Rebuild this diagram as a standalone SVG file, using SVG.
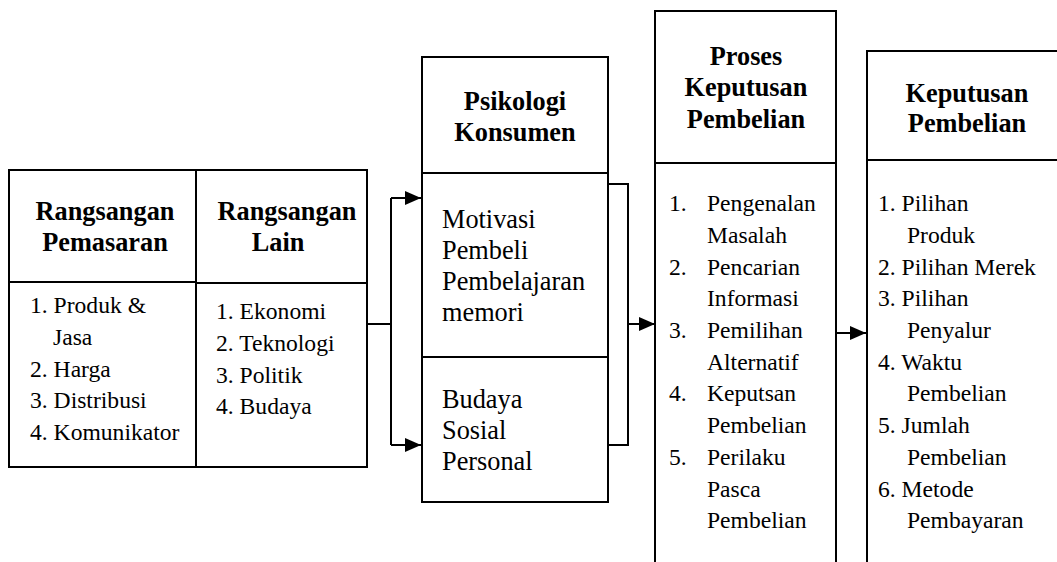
<svg xmlns="http://www.w3.org/2000/svg" width="1057" height="562" viewBox="0 0 1057 562">
<style>
.box{fill:#fff;stroke:#000;stroke-width:2}
.ln{fill:none;stroke:#000;stroke-width:2}
text{font-family:'Liberation Serif','Times New Roman','DejaVu Serif',serif;fill:#000}
.h{font-weight:bold;font-size:26.3px;text-anchor:middle}
.t{font-size:23.6px}
.b{font-size:26.3px}
</style>
<defs>
<marker id="arr" markerWidth="16" markerHeight="14" refX="16" refY="7" orient="auto" markerUnits="userSpaceOnUse">
<path d="M0,0 L16,7 L0,14 Z" fill="#000"/>
</marker>
</defs>
<rect width="1057" height="562" fill="#fff"/>
<g id="connectors">
<path class="ln" d="M367,324 L391,324"/>
<path class="ln" d="M391,198 L391,445"/>
<path class="ln" d="M391,198 L421,198" marker-end="url(#arr)"/>
<path class="ln" d="M391,445 L421,445" marker-end="url(#arr)"/>
<path class="ln" d="M608,184 L628,184 L628,445 L608,445"/>
<path class="ln" d="M628,324 L655,324" marker-end="url(#arr)"/>
<path class="ln" d="M837,333 L866,333" marker-end="url(#arr)"/>
</g>
<g id="rangsangan-pemasaran">
<rect class="box" x="9" y="170" width="187" height="297"/>
<line class="ln" x1="9" y1="282" x2="196" y2="282"/>
<text class="h" x="105" y="220">Rangsangan</text>
<text class="h" x="105" y="251">Pemasaran</text>
<text class="t" x="30" y="313">1. Produk &amp;</text>
<text class="t" x="53" y="345">Jasa</text>
<text class="t" x="30" y="377">2. Harga</text>
<text class="t" x="30" y="408">3. Distribusi</text>
<text class="t" x="30" y="440">4. Komunikator</text>
</g>
<g id="rangsangan-lain">
<rect class="box" x="196" y="170" width="171" height="297"/>
<line class="ln" x1="196" y1="283" x2="367" y2="283"/>
<text class="h" x="287" y="220">Rangsangan</text>
<text class="h" x="278" y="251">Lain</text>
<text class="t" x="216" y="319">1. Ekonomi</text>
<text class="t" x="216" y="351">2. Teknologi</text>
<text class="t" x="216" y="383">3. Politik</text>
<text class="t" x="216" y="414">4. Budaya</text>
</g>
<g id="psikologi-konsumen">
<rect class="box" x="422" y="57" width="186" height="445"/>
<line class="ln" x1="422" y1="173" x2="608" y2="173"/>
<line class="ln" x1="422" y1="357" x2="608" y2="357"/>
<text class="h" x="515" y="110">Psikologi</text>
<text class="h" x="515" y="141">Konsumen</text>
<text class="b" x="442" y="228">Motivasi</text>
<text class="b" x="442" y="259">Pembeli</text>
<text class="b" x="442" y="290">Pembelajaran</text>
<text class="b" x="442" y="321">memori</text>
<text class="b" x="442" y="408">Budaya</text>
<text class="b" x="442" y="439">Sosial</text>
<text class="b" x="442" y="470">Personal</text>
</g>
<g id="proses-keputusan">
<path class="ln" d="M655,563 L655,11 L836,11 L836,563"/>
<line class="ln" x1="655" y1="163" x2="836" y2="163"/>
<text class="h" x="746" y="65">Proses</text>
<text class="h" x="746" y="96">Keputusan</text>
<text class="h" x="746" y="128">Pembelian</text>
<text class="t" x="669" y="211">1.</text>
<text class="t" x="707" y="211">Pengenalan</text>
<text class="t" x="707" y="243">Masalah</text>
<text class="t" x="669" y="275">2.</text>
<text class="t" x="707" y="275">Pencarian</text>
<text class="t" x="707" y="306">Informasi</text>
<text class="t" x="669" y="338">3.</text>
<text class="t" x="707" y="338">Pemilihan</text>
<text class="t" x="707" y="370">Alternatif</text>
<text class="t" x="669" y="401">4.</text>
<text class="t" x="707" y="401">Keputsan</text>
<text class="t" x="707" y="433">Pembelian</text>
<text class="t" x="669" y="465">5.</text>
<text class="t" x="707" y="465">Perilaku</text>
<text class="t" x="707" y="497">Pasca</text>
<text class="t" x="707" y="528">Pembelian</text>
</g>
<g id="keputusan-pembelian">
<path class="ln" d="M867,563 L867,51 L1060,51"/>
<line class="ln" x1="867" y1="160" x2="1060" y2="160"/>
<text class="h" x="967" y="102">Keputusan</text>
<text class="h" x="967" y="132">Pembelian</text>
<text class="t" x="878" y="211">1. Pilihan</text>
<text class="t" x="907" y="243">Produk</text>
<text class="t" x="878" y="275">2. Pilihan Merek</text>
<text class="t" x="878" y="306">3. Pilihan</text>
<text class="t" x="907" y="338">Penyalur</text>
<text class="t" x="878" y="370">4. Waktu</text>
<text class="t" x="907" y="401">Pembelian</text>
<text class="t" x="878" y="433">5. Jumlah</text>
<text class="t" x="907" y="465">Pembelian</text>
<text class="t" x="878" y="497">6. Metode</text>
<text class="t" x="907" y="528">Pembayaran</text>
</g>
</svg>
